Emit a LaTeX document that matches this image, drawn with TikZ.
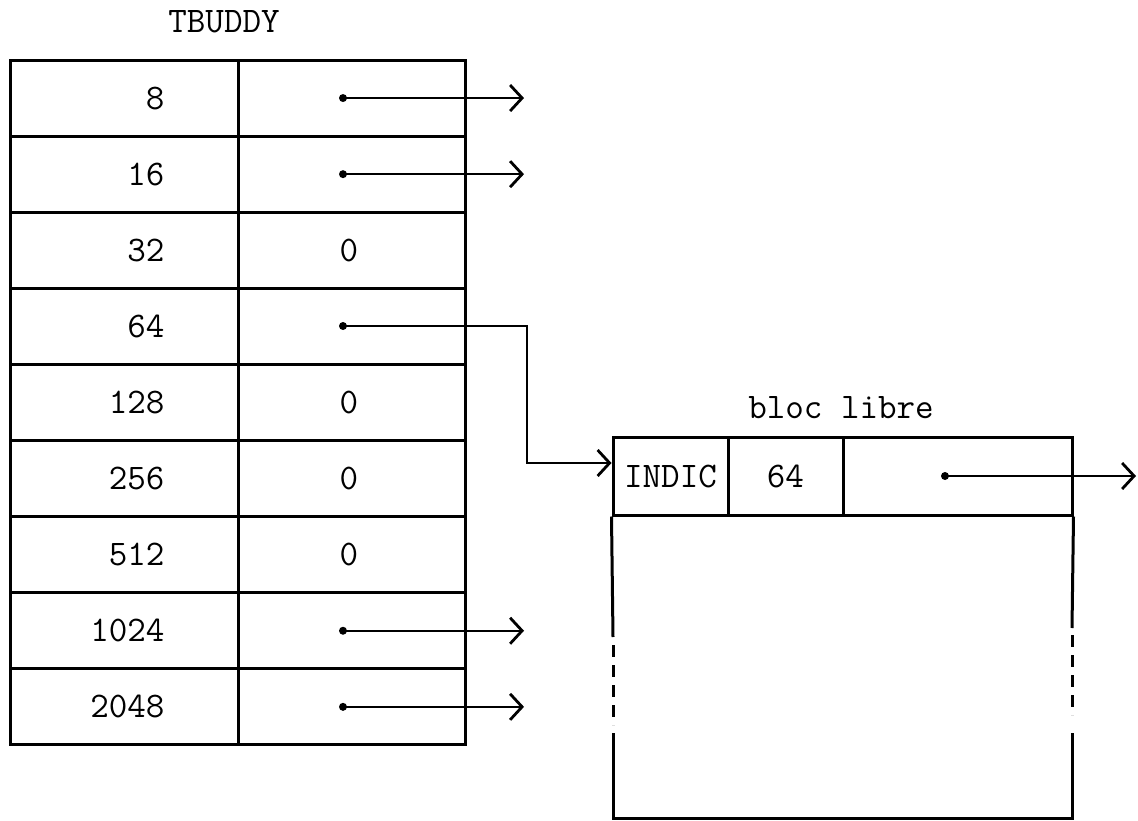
\documentclass[tikz,border=0pt]{standalone}
\usepackage{tikz}
\usetikzlibrary{
    arrows.meta,
    calc,
    positioning
}

\tikzset{
    cell/.style={draw, line width=3pt, minimum height=76pt, inner sep=0pt},
    ptr/.style={line width=2pt, -{Straight Barb[length=12pt, width=26pt, line width=2.8pt]}},
    dot/.style={circle, fill, inner sep=0pt, minimum size=8pt}
}

\begin{document}
\begin{tikzpicture}[x=1pt, y=-1pt, font=\fontsize{36}{42}\selectfont\ttfamily]
                        \useasboundingbox (0, 0) rectangle (1138, 821);
                        \node (title) at (224, 22) {TBUDDY};
                        \foreach \size/\val [count=\i] in {8/p, 16/p, 32/0, 64/q, 128/0, 256/0, 512/0, 1024/p, 2048/p} {
                            \pgfmathsetmacro{\yy}{60 + 76.1*(\i - 0.5)}
                            \node[cell, minimum width=228pt] (size\i) at (124, \yy) {};
                            \node[cell, minimum width=227pt] (link\i) at (351.5, \yy) {};
                            \node[anchor=east] (num\i) at (168, \yy) {\size};
                            \if\val0
                                \node (zero\i) at (349, \yy) {0};
                            \fi
                            \if\val p
                                \node[dot] (dot\i) at (343, \yy) {};
                                \coordinate (end\i) at (524, \yy);
                                \draw[ptr] (dot\i.center) -- (end\i);
                            \fi
                        }
                        % bloc libre
                        \node (blocname) at (841, 408) {bloc libre};
                        \node[cell, minimum width=115pt, minimum height=78pt] (indic) at (670.5, 476) {INDIC};
                        \node[cell, minimum width=115pt, minimum height=78pt] (taille) at (785.5, 476) {64};
                        \node[cell, minimum width=229pt, minimum height=78pt] (suiv) at (957.5, 476) {};
                        \node[dot] (dotsuiv) at (945, 476) {};
                        \coordinate (endsuiv) at (1136, 476);
                        \draw[ptr] (dotsuiv.center) -- (endsuiv);
                        \draw[line width=3pt] (indic.south west) -- (613, 637);
                        \draw[line width=3pt, dash pattern=on 12pt off 8pt] (613, 645) -- (613, 725);
                        \draw[line width=3pt] (613, 733) -- (613, 818) -- (1072, 818) -- (1072, 733);
                        \draw[line width=3pt, dash pattern=on 12pt off 8pt] (1072, 635) -- (1072, 715);
                        \draw[line width=3pt] (suiv.south east) -- (1072, 628);
                        % lien 64
                        \node[dot] (dot4) at (343, 326) {};
                        \coordinate (coude) at (527, 326);
                        \draw[ptr] (dot4.center) -- (coude) |- ($(indic.west) + (0, -13)$);
                    \end{tikzpicture}
\end{document}
